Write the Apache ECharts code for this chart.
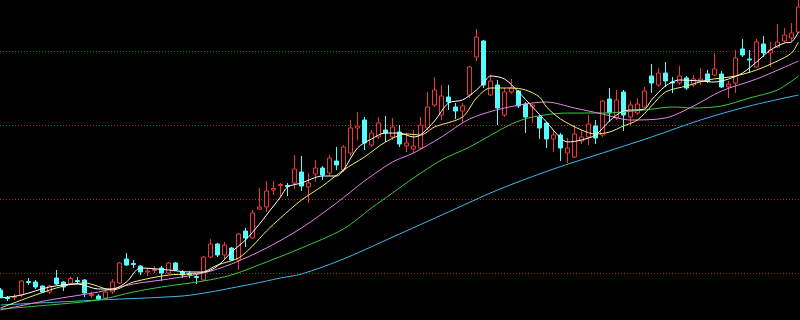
<!DOCTYPE html>
<html><head><meta charset="utf-8">
<script src="https://cdn.jsdelivr.net/npm/echarts@6/dist/echarts.min.js"></script>
<style>
html,body{margin:0;padding:0;background:#000;width:800px;height:320px;overflow:hidden;position:relative;}
#c{position:absolute;left:-3.3px;top:-23px;width:805px;height:370px;}
</style>
</head><body><div id="c"></div>
<script>
// candles: [open, close, low, high]
const candles = [
[57,50,49,59],[49.5,48.5,46,51],[49.5,50.5,47,53],[52,66,50,67],[65.5,64.5,62,69],
[65,60,58,67],[61,55,54,61.5],[55,61,53,62],[69,63,62,77],[65,60,56,66],
[63.5,68.5,63,70.5],[66.5,65.5,63,70],[67,54,50,68],[51.5,52.5,49,55],[51,48,47,53],
[49,55,48,56],[55,65,53,68],[64,84,63,85],[88,82,81,94],[83.5,82.5,79,87],
[81,75,72,82],[75,76,71,79],[76.5,77.5,74,81],[79,74,66,81],[74,84,73,85],
[84,77,76,85],[75,72,69,77],[73.5,72.5,69,76],[70.5,69.5,63,72],[67,90,66,91],
[90,103,89,108],[103,92,90,104],[92,102,87,105],[99,87,86,100],[87,113,77,114],
[116,109,100,119],[109,134,108,137],[138,140,137,159],[140,156,135,166],[157,158.5,152,166],
[161.5,162.5,151,164],[161.5,160.5,151,164],[164,178,158,192],[175,161,156,191],[160,164,144,174],
[173,179,165,187],[179,172,167,181],[174,189,171,192],[186,182,177,200],[177,200,175,202],
[194,219,191,227],[219,221,207,235],[227,204,197,230],[202,214,200,217],[210,224,208,230],
[217,214,205,231],[210,220,207,229],[215,203,200,222],[201,204,195,214],[198,201,194,217],
[199,222,197,230],[219,240,217,255],[242,257,240,270],[232,251,227,262],[250,245,237,262],
[240,236,228,244],[236,241,224,244],[252,280,249,281],[290,310,286,318],[306,262,259,307],
[252,266,251,272],[262,239,222,267],[232,255,230,259],[255,259,253,268],[256,241,239,257],
[243,230,214,245],[240,242,224,243],[230,219,208,232],[224,208,199,225],[208,212,195,217],
[212,199,186,214],[194,199,184,209],[190,213,189,222],[206,210,203,217],[210,223,202,232],
[221,209,203,227],[212,246,210,247],[248,234,225,259],[229,247,227,257],[255,232,216,257],
[230,242,222,246],[234,243,232,249],[240,256,239,260],[271,264,254,283],[262,274,260,279],
[274,266,260,285],[265,264,254,270],[264,271,262,281],[269,259,257,271],[262,268,260,272],
[266,268,262,279],[273,265.5,264,277],[272,278,271,294],[273,260,259,276],[260,263,249,266],
[264,289,254,297],[298,292,290,308],[288,287,274,297],[280,305,279,308],[303,294,290,311],
[294,297,280,305],[300,305,299,323],[306,312,304,319],[309,314,305,324],[315,340,314,347]
];
// moving-average lines: [candle index, value]
const maWhite = [[0,49],[3,52],[7,60],[11,63],[14,58],[16,58],[18,65],[20,79],[24,77],[27,75],[29,75],[31,81],[33,95],[35,107],[37,123],[38,132],[40,150],[41,160],[43,164],[46,171],[48,171],[49,177],[51,199],[53,208],[55,214],[57,214],[59,210],[60,212],[62,226],[64,244],[66,247],[68,257],[69,264],[70,271],[72,268],[74,255],[76,240],[78,225],[80,209],[81,205],[83,207],[85,212],[87,226],[89,236],[92,238],[93,247],[95,261],[97,267],[100,266],[102,265],[104,268],[106,274],[108,285],[110,297],[112,304],[113,305],[114,315]];
const maYellow = [[0,39],[5,52],[9,61],[12,64],[16,57],[19,65],[24,72],[27,73],[29,75],[31,82],[34,89],[36,101],[38,116],[40,129],[43,147],[46,161],[49,177],[52,190],[55,205],[58,213],[60,212],[62,220],[66,230],[68,249],[70,259],[73,259],[75,257],[77,250],[78,240],[80,228],[83,217],[85,213],[87,215],[89,221],[91,227],[93,241],[95,255],[98,261],[101,267],[105,271],[108,277],[111,286],[113,294],[114,305]];
const maPink = [[0,37],[7,47],[14,55],[19,63],[24,68],[29,74],[33,83],[38,99],[43,119],[48,144],[52,166],[56,185],[59,194],[63,210],[67,228],[72,239],[78,245],[82,239],[86,233],[90,227],[95,229],[99,241],[103,256],[108,268],[114,286]];
const maGreen = [[0,38],[7,42],[14,47],[19,55],[23,60],[29,66],[33,72],[38,85],[43,99],[49,118],[53,139],[56,154],[59,169],[63,187],[67,200],[73,223],[76,230],[81,234],[86,234],[92,237],[96,240],[99,239],[103,241],[107,249],[111,257],[114,271]];
const maBlue = [[0,42],[14,47],[26,51],[30,55],[33,59],[36,63],[40,69],[43,73],[49,88],[57,113],[64,135],[71,157],[79,178],[86,194],[93,210],[100,227],[107,241],[114,252]];
const categories = candles.map((_, i) => String(i + 1));

const chart = echarts.init(document.getElementById('c'), null, {renderer: 'canvas'});
function ma(data, color) {
  return {type: 'line', data: data, smooth: 0.3, showSymbol: false, silent: true, z: 3,
    lineStyle: {color: color, width: 1}};
}
chart.setOption({
  animation: false,
  backgroundColor: '#000',
  grid: {left: 0, right: 0, top: 0, bottom: 0},
  xAxis: {type: 'category', data: categories, boundaryGap: true,
    axisLine: {show: false}, axisTick: {show: false}, axisLabel: {show: false}, splitLine: {show: false}},
  yAxis: {type: 'value', min: 0, max: 370, interval: 74,
    axisLine: {show: false}, axisTick: {show: false}, axisLabel: {show: false},
    splitLine: {show: true, lineStyle: {color: '#c41c1c', type: [1, 2], width: 1}}},
  series: [
    {type: 'candlestick', data: candles, barWidth: 5, silent: true, z: 2,
      itemStyle: {color: '#000', borderColor: '#e8383a', color0: '#54fcfc', borderColor0: '#54fcfc', borderWidth: 1}},
    ma(maBlue, '#40b8e8'),
    ma(maGreen, '#3cc83c'),
    ma(maPink, '#e884e8'),
    ma(maYellow, '#f4f070'),
    ma(maWhite, '#ffffff')
  ]
});
</script>
</body></html>
